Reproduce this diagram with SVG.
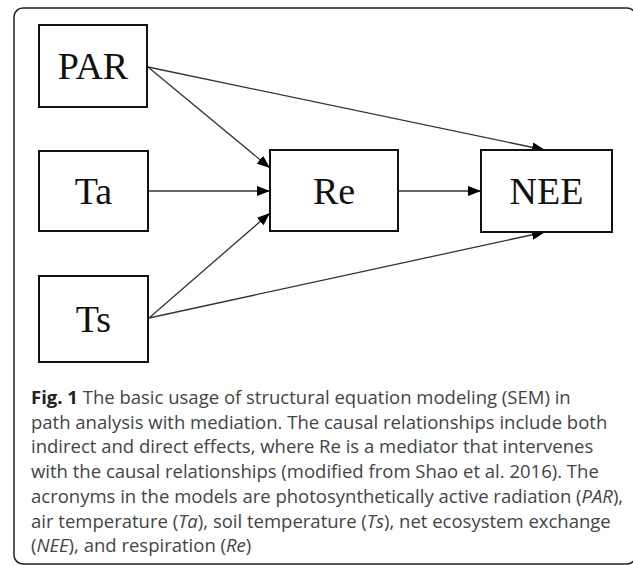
<svg xmlns="http://www.w3.org/2000/svg" width="633" height="565" viewBox="0 0 633 565">
<style>
.box{fill:#fff;stroke:#111;stroke-width:2}
.lbl{font-family:"Liberation Serif","Times New Roman",serif;font-size:38px;fill:#111;text-anchor:middle}
.edge{stroke:#333;stroke-width:1.3;fill:none;marker-end:url(#ah)}
.cap{font-family:"Open Sans","Liberation Sans",sans-serif;font-size:18.5px;fill:#444}
</style>
<defs>
<marker id="ah" markerUnits="userSpaceOnUse" markerWidth="14" markerHeight="10" refX="13" refY="5" orient="auto">
<path d="M0,0 L13,5 L0,10 Z" fill="#000"/>
</marker>
</defs>
<rect x="14" y="8" width="622" height="556" rx="9" fill="#fff" stroke="#222" stroke-width="1.5"/>
<g id="connectors">
<line class="edge" x1="148" y1="67" x2="270" y2="168"/>
<line class="edge" x1="148" y1="67" x2="545" y2="150"/>
<line class="edge" x1="148" y1="191" x2="270" y2="191"/>
<line class="edge" x1="398" y1="191" x2="481" y2="191"/>
<line class="edge" x1="149" y1="318" x2="270" y2="213"/>
<line class="edge" x1="149" y1="318" x2="545" y2="232"/>
</g>
<g id="PAR"><rect class="box" x="39" y="25" width="108" height="82"/><text class="lbl" x="93" y="79">PAR</text></g>
<g id="Ta"><rect class="box" x="39" y="151" width="109" height="80"/><text class="lbl" x="93.5" y="204">Ta</text></g>
<g id="Ts"><rect class="box" x="39" y="276" width="109" height="86"/><text class="lbl" x="93.5" y="332">Ts</text></g>
<g id="Re"><rect class="box" x="270" y="150" width="128" height="81"/><text class="lbl" x="334" y="204">Re</text></g>
<g id="NEE"><rect class="box" x="481" y="150" width="131" height="82"/><text class="lbl" x="546.5" y="204">NEE</text></g>
<g id="caption" class="cap">
<text x="31" y="404"><tspan font-weight="bold" fill="#222">Fig. 1</tspan> The basic usage of structural equation modeling (SEM) in</text>
<text x="31" y="428.7">path analysis with mediation. The causal relationships include both</text>
<text x="31" y="453.4">indirect and direct effects, where Re is a mediator that intervenes</text>
<text x="31" y="478.1">with the causal relationships (modified from Shao et al. 2016). The</text>
<text x="31" y="502.8">acronyms in the models are photosynthetically active radiation (<tspan font-style="italic">PAR</tspan>),</text>
<text x="31" y="527.5">air temperature (<tspan font-style="italic">Ta</tspan>), soil temperature (<tspan font-style="italic">Ts</tspan>), net ecosystem exchange</text>
<text x="31" y="552.2">(<tspan font-style="italic">NEE</tspan>), and respiration (<tspan font-style="italic">Re</tspan>)</text>
</g>
</svg>
